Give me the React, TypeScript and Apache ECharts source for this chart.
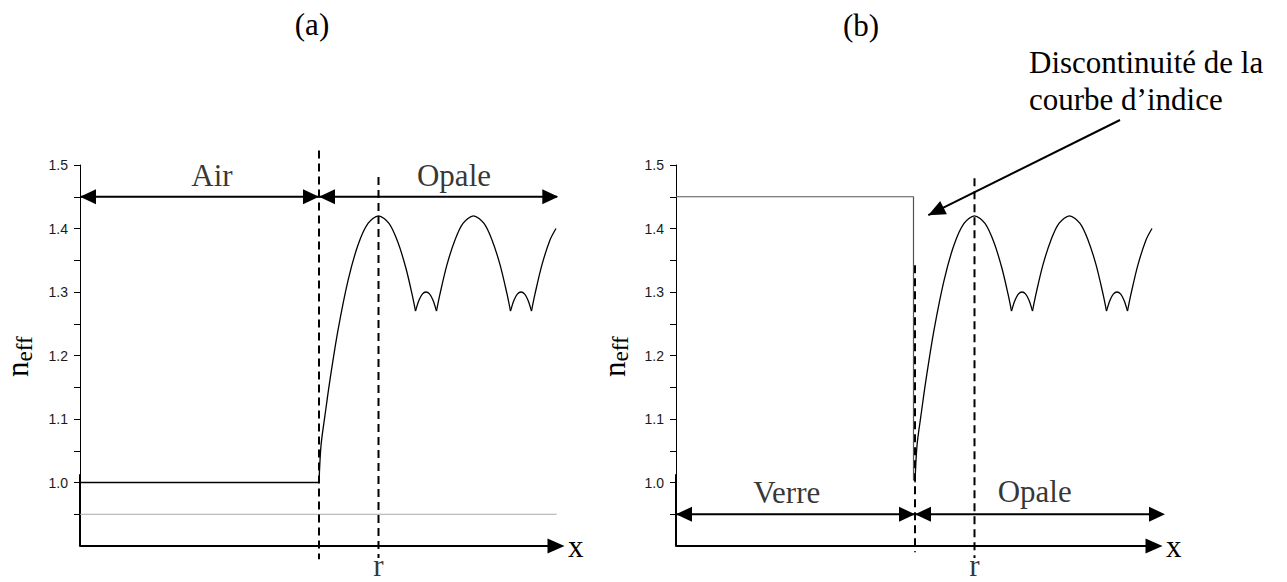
import React, { useEffect, useRef } from 'react';
import * as echarts from 'echarts';

// ---- data (x in arbitrary depth units, y = effective index n_eff) ----
const yTickValues = [0.95, 1.0, 1.05, 1.1, 1.15, 1.2, 1.25, 1.3, 1.35, 1.4, 1.45, 1.5];
const yLabelValues = [1.0, 1.1, 1.2, 1.3, 1.4, 1.5];

const airBaseline = [[0, 1.0], [23.9, 1.0]];
const glassIndex = [[0, 1.45], [23.75, 1.45], [23.75, 1.003]];
const refLine095 = [[0, 0.95], [47.67, 0.95]];

const arc1 = [[23.9, 1.0], [24.1, 1.058], [24.5, 1.106], [25.0, 1.162], [25.8, 1.24], [26.8, 1.318], [27.8, 1.374], [28.8, 1.408], [29.85, 1.42], [30.9, 1.408], [31.8, 1.378], [32.6, 1.337], [33.2, 1.297], [33.55, 1.27]];
const bump1 = [[33.55, 1.27], [33.9, 1.287], [34.25, 1.297], [34.6, 1.3], [34.95, 1.297], [35.3, 1.287], [35.65, 1.27]];
const arc2 = [[35.65, 1.27], [36.0, 1.297], [36.7, 1.343], [37.5, 1.382], [38.3, 1.408], [39.35, 1.42], [40.4, 1.408], [41.2, 1.382], [42.0, 1.343], [42.7, 1.297], [43.05, 1.27]];
const bump2 = [[43.05, 1.27], [43.4, 1.287], [43.75, 1.297], [44.1, 1.3], [44.45, 1.297], [44.8, 1.287], [45.15, 1.27]];
const arc3 = [[45.15, 1.27], [45.5, 1.297], [46.2, 1.343], [47.0, 1.382], [47.6, 1.4]];
const arcs = [arc1, bump1, arc2, bump2, arc3];

const leftDashes = [[[23.9, 1.523], [23.9, 0.879]], [[29.85, 1.481], [29.85, 0.881]]];
const rightDashes = [[[23.9, 1.342], [23.9, 0.89]], [[29.85, 1.479], [29.85, 0.881]]];
const yAxisFoot = [[0, 1.013], [0, 0.9]];

const leftSpans = [[[0, 1.45], [23.9, 1.45]], [[23.9, 1.45], [47.83, 1.45]]];
const rightSpans = [[[0, 0.95], [23.9, 0.95]], [[23.9, 0.95], [48.9, 0.95]]];

const leftLabels = [
  { name: 'Air', value: [13.2, 1.484] },
  { name: 'Opale', value: [37.4, 1.484] },
  { name: 'r', value: [29.85, 0.869] },
];
const rightLabels = [
  { name: 'Verre', value: [11.07, 0.985] },
  { name: 'Opale', value: [35.87, 0.986] },
  { name: 'r', value: [29.85, 0.869] },
];
const discontinuityTip = [25.23, 1.421];

const serif = '"Liberation Serif", "Times New Roman", serif';
const sans = '"Liberation Sans", Arial, sans-serif';

function makeX(gridIndex: number, max: number) {
  return {
    type: 'value', gridIndex, min: 0, max,
    axisLine: { show: true, onZero: false, lineStyle: { color: '#000', width: 2 }, symbol: ['none', 'triangle'], symbolSize: [15, 17] },
    axisTick: { show: false }, axisLabel: { show: false }, splitLine: { show: false },
    name: 'x', nameLocation: 'end', nameGap: 12,
    nameTextStyle: { fontFamily: serif, fontSize: 31, color: '#000', verticalAlign: 'middle', align: 'left' },
  };
}
function makeY(gridIndex: number) {
  return {
    type: 'value', gridIndex, min: 0.9, max: 1.5,
    axisLine: { show: true, onZero: false, lineStyle: { color: '#000', width: 1 } },
    axisTick: { show: true, length: 6, customValues: yTickValues, lineStyle: { color: '#000', width: 1 } },
    axisLabel: { show: true, customValues: yLabelValues, formatter: (v: number) => v.toFixed(1), fontFamily: sans, fontSize: 14, color: '#1a1a1a', margin: 12 },
    splitLine: { show: false },
  };
}
function lineS(gi: number, data: number[][], lineStyle: any, extra: any = {}) {
  return { type: 'line', xAxisIndex: gi, yAxisIndex: gi, data, symbol: 'none', showSymbol: false, clip: false, silent: true, animation: false, lineStyle, ...extra };
}
function spanS(gi: number, span: number[][]) {
  return {
    type: 'line', xAxisIndex: gi, yAxisIndex: gi, clip: false, silent: true, symbolSize: [15, 16],
    showSymbol: true, showAllSymbol: true,
    data: [
      { value: span[0], symbol: 'triangle', symbolRotate: 90, symbolOffset: [8, 0] },
      { value: span[1], symbol: 'triangle', symbolRotate: -90, symbolOffset: [-8, 0] },
    ],
    lineStyle: { color: '#000', width: 2 }, itemStyle: { color: '#000', borderWidth: 0 },
  };
}
function labelS(gi: number, items: any[], extra: any = {}) {
  return {
    type: 'scatter', xAxisIndex: gi, yAxisIndex: gi, clip: false, silent: true,
    symbol: 'circle', symbolSize: 1, itemStyle: { color: 'rgba(0,0,0,0)' },
    data: items.map((d) => ({ name: d.name, value: d.value })),
    label: { show: true, position: 'inside', formatter: '{b}', fontFamily: serif, fontSize: 31, color: '#000', textBorderWidth: 0 },
    ...extra,
  };
}
function neff(x: number, y: number) {
  return {
    type: 'group', x, y, rotation: Math.PI / 2,
    children: [
      { type: 'text', style: { text: 'n', x: 0, y: 0, textAlign: 'left', textVerticalAlign: 'middle', font: `31px ${serif}`, fill: '#000' } },
      { type: 'text', style: { text: 'eff', x: 15.5, y: 6.8, textAlign: 'left', textVerticalAlign: 'middle', font: `23px ${serif}`, fill: '#000' } },
    ],
  };
}

const curveStyle = { color: '#000', width: 1.3 };
const dashStyle = { color: '#000', width: 2, type: [8, 5] };

const series: any[] = [];
[0, 1].forEach((gi) => {
  arcs.forEach((a) => series.push(lineS(gi, a, curveStyle, { smooth: 0.3 })));
  series.push(lineS(gi, yAxisFoot, { color: '#000', width: 2 }));
});
series.push(lineS(0, airBaseline, curveStyle));
series.push(lineS(0, refLine095, { color: '#aaa', width: 1 }));
series.push(lineS(1, glassIndex, { color: '#555', width: 1.2 }));
leftDashes.forEach((d) => series.push(lineS(0, d, dashStyle)));
rightDashes.forEach((d) => series.push(lineS(1, d, dashStyle)));
leftSpans.forEach((s) => series.push(spanS(0, s)));
rightSpans.forEach((s) => series.push(spanS(1, s)));
series.push(labelS(0, leftLabels));
series.push(labelS(1, rightLabels, {
  markLine: {
    silent: true, animation: false,
    symbol: ['none', 'triangle'], symbolSize: [15, 17],
    label: { show: false }, emphasis: { disabled: true },
    lineStyle: { color: '#000', width: 2, type: 'solid' },
    data: [[
      { x: 1120, y: 120, symbol: 'none' },
      { coord: discontinuityTip, symbol: 'triangle', symbolSize: [15, 17], symbolOffset: [0, 8.5] },
    ]],
  },
}));

const option: any = {
  animation: false,
  backgroundColor: '#fff',
  grid: [
    { left: 80, top: 165, width: 476, height: 381 },
    { left: 676, top: 165, width: 478, height: 381 },
  ],
  xAxis: [makeX(0, 47.6), makeX(1, 47.8)],
  yAxis: [makeY(0), makeY(1)],
  series,
  graphic: [
    { type: 'text', style: { text: '(a)', x: 312, y: 24, textAlign: 'center', textVerticalAlign: 'middle', font: `31px ${serif}`, fill: '#000' } },
    { type: 'text', style: { text: '(b)', x: 861, y: 25, textAlign: 'center', textVerticalAlign: 'middle', font: `31px ${serif}`, fill: '#000' } },
    { type: 'text', style: { text: 'Discontinuité de la\ncourbe d’indice', x: 1029, y: 44, textAlign: 'left', textVerticalAlign: 'top', lineHeight: 37, font: `31px ${serif}`, fill: '#000' } },
    neff(17.8, 377),
    neff(614, 377),
  ],
};

export default function App() {
  const ref = useRef<HTMLDivElement>(null);
  useEffect(() => {
    document.body.style.margin = '0';
    const chart = echarts.init(ref.current!, null, { renderer: 'svg' });
    chart.setOption(option);
    return () => chart.dispose();
  }, []);
  return <div ref={ref} style={{ width: 1287, height: 582 }} />;
}
